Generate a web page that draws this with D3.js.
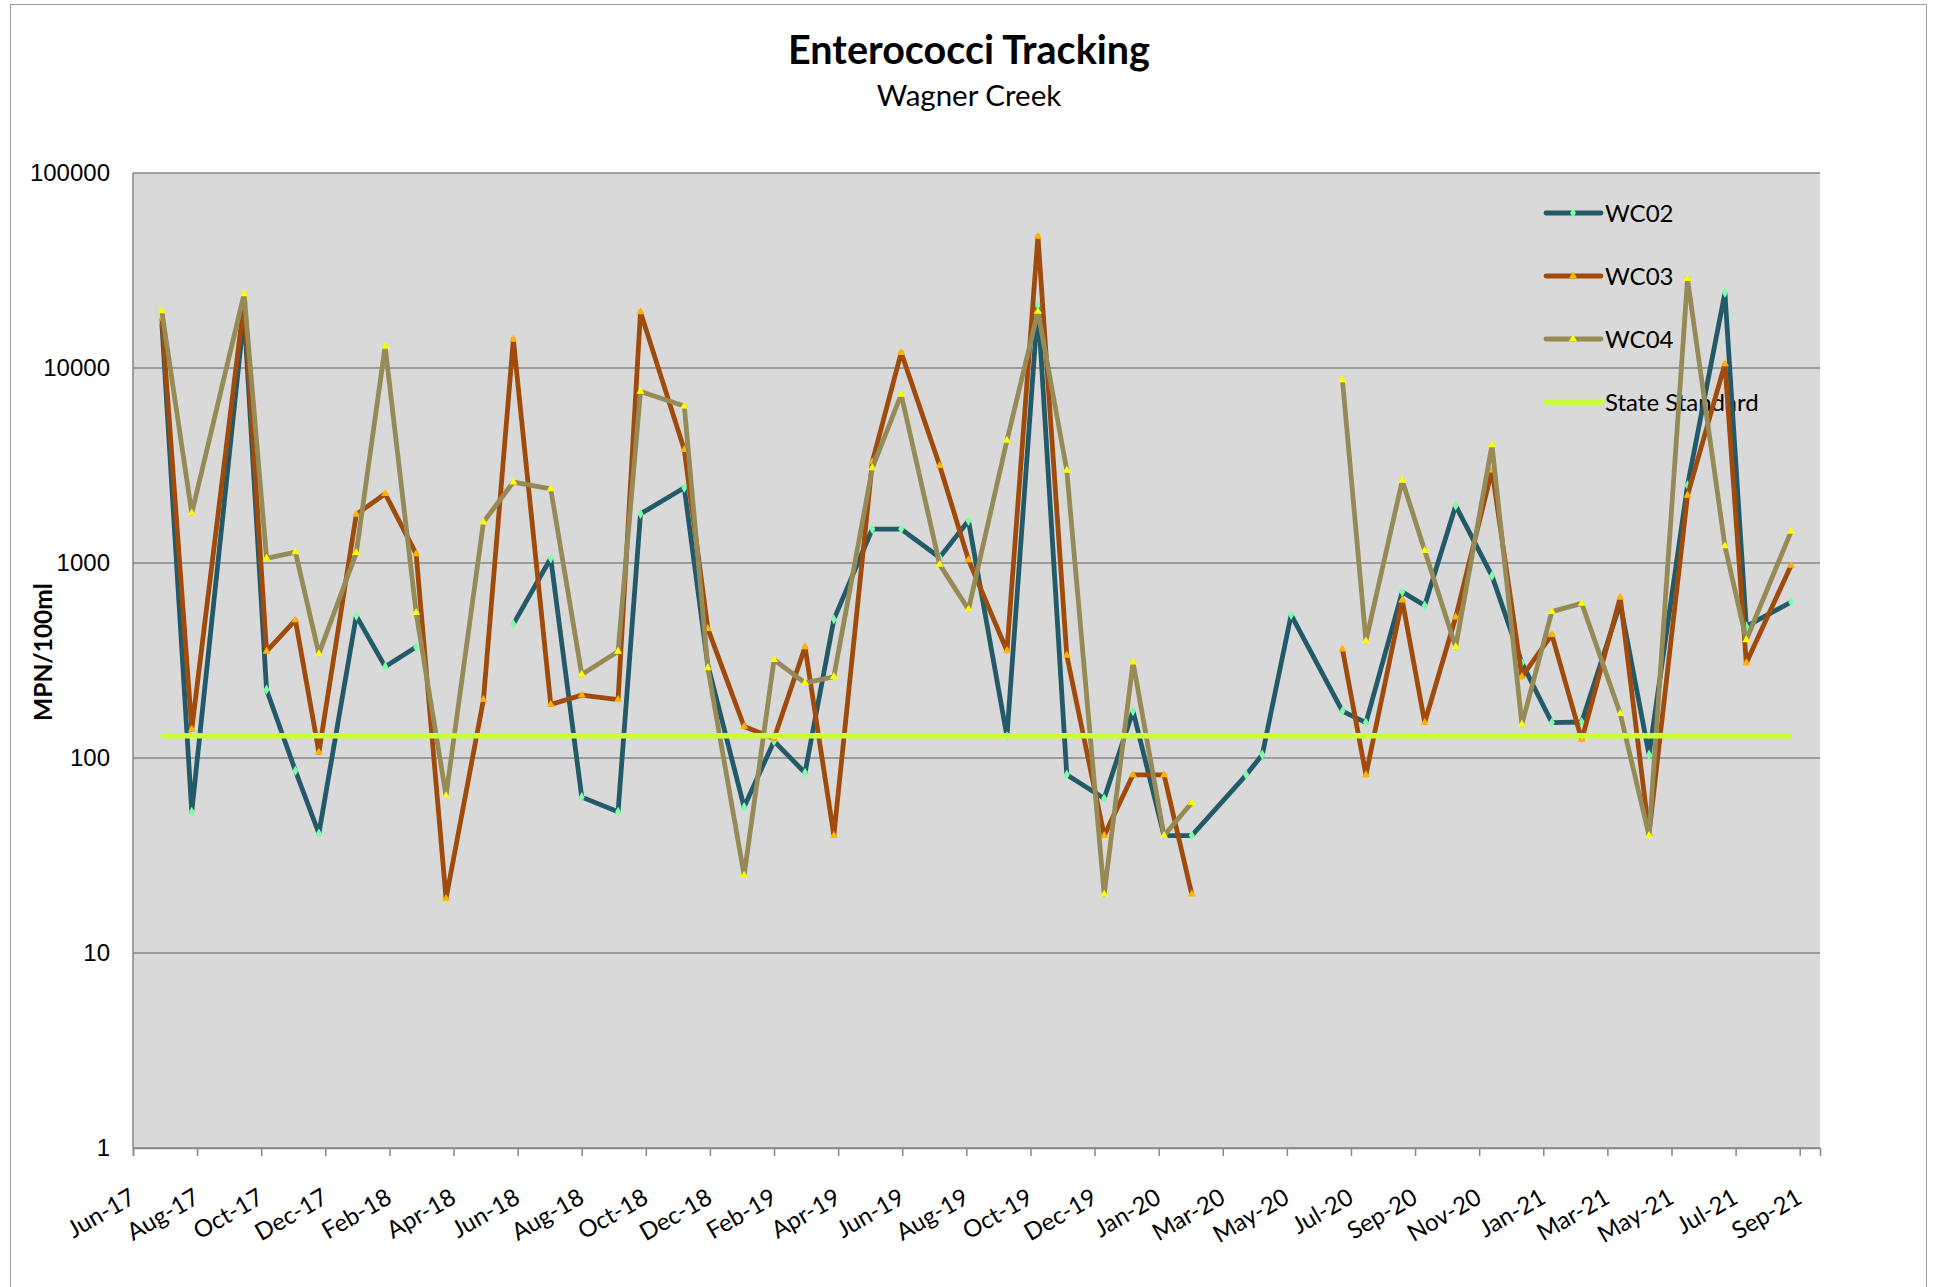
<!DOCTYPE html>
<html>
<head>
    <title>Enterococci Tracking</title>
    <script src="https://d3js.org/d3.v7.min.js"></script>
    <style>
        body { margin: 0; background: #fff; }
        .title { font-family: Lato, "Open Sans", sans-serif; font-weight: bold; fill: #000; }
        .subtitle { font-family: Lato, "Open Sans", sans-serif; fill: #000; }
        .ylab { font-family: "Liberation Sans", Arial, sans-serif; fill: #000; }
        .xlab { font-family: Lato, "Open Sans", sans-serif; fill: #000; }
        .legend text { font-family: Lato, "Open Sans", sans-serif; fill: #000; }
    </style>
</head>
<body>
    <div id="chart"></div>

    <script>
        // sample dates (one per sampling trip)
        const sampleDates = [
            "2017-07-12", "2017-08-09", "2017-09-27", "2017-10-18", "2017-11-14", "2017-12-06",
            "2018-01-10", "2018-02-06", "2018-03-07", "2018-04-04", "2018-05-09", "2018-06-06",
            "2018-07-11", "2018-08-09", "2018-09-12", "2018-10-03", "2018-11-13", "2018-12-05",
            "2019-01-08", "2019-02-05", "2019-03-06", "2019-04-02", "2019-05-08", "2019-06-04",
            "2019-07-10", "2019-08-06", "2019-09-11", "2019-10-10", "2019-11-06", "2019-12-11",
            "2020-01-07", "2020-02-05", "2020-03-02", "2020-04-22", "2020-05-07", "2020-06-03",
            "2020-07-21", "2020-08-12", "2020-09-15", "2020-10-06", "2020-11-04", "2020-12-08",
            "2021-01-05", "2021-02-02", "2021-03-02", "2021-04-07", "2021-05-04", "2021-06-09",
            "2021-07-14", "2021-08-03", "2021-09-14"
        ];

        const wc02 = [
            17000, 53, 19000, 224, 86, 41, 536, 294, 371, null, null, 486,
            1057, 63, 53, 1786, 2430, 300, 56, 122, 84, 514, 1493, 1493,
            1067, 1645, 129, 21000, 82, 62, 174, 40, 40, 82, 104, 542,
            174, 152, 711, 605, 1967, 859, 307, 152, 153, 620, 104, 2500,
            24300, 473, 631
        ];
        const wc03 = [
            18000, 140, 22000, 352, 510, 107, 1775, 2265, 1114, 19, 199, 14000,
            188, 210, 199, 19400, 3810, 461, 145, 126, 371, 40, 3300, 12000,
            3160, 1038, 355, 47300, 336, 40, 82, 82, 20, null, null, null,
            361, 82, 645, 152, 527, 2990, 261, 429, 124, 666, 41, 2220,
            10500, 307, 973
        ];
        const wc04 = [
            19600, 1800, 24000, 1057, 1138, 342, 1128, 12900, 557, 64, 1620, 2600,
            2400, 268, 352, 7580, 6380, 290, 25, 319, 243, 261, 3070, 7310,
            984, 578, 4250, 19500, 2985, 20, 310, 40, 59, null, null, null,
            8690, 398, 2650, 1158, 371, 4030, 149, 563, 621, 169, 40, 28700,
            1222, 403, 1453
        ];
        const stateStandard = 130;

        const seriesNames = ["WC02", "WC03", "WC04", "State Standard"];
        const yTicks = [1, 10, 100, 1000, 10000, 100000];
        const xTickLabels = [
            "Jun-17", "Aug-17", "Oct-17", "Dec-17", "Feb-18", "Apr-18", "Jun-18", "Aug-18",
            "Oct-18", "Dec-18", "Feb-19", "Apr-19", "Jun-19", "Aug-19", "Oct-19", "Dec-19",
            "Jan-20", "Mar-20", "May-20", "Jul-20", "Sep-20", "Nov-20", "Jan-21", "Mar-21",
            "May-21", "Jul-21", "Sep-21"
        ];
        const axisStart = "2017-06-15";
        const majorUnitDays = 60;
        const axisDays = 1579;

        const width = 1940, height = 1287;
        const plot = { left: 133, right: 1820, top: 173, bottom: 1148 };

        const parse = d3.utcParse("%Y-%m-%d");
        const dates = sampleDates.map(parse);
        const start = parse(axisStart);

        const x = d3.scaleUtc()
            .domain([start, d3.utcDay.offset(start, axisDays)])
            .range([plot.left, plot.right]);
        const y = d3.scaleLog()
            .domain([1, 100000])
            .range([plot.bottom, plot.top]);

        const svg = d3.select("#chart")
            .append("svg")
            .attr("width", width)
            .attr("height", height);

        // chart border
        svg.append("rect")
            .attr("x", 10.5).attr("y", 4.5)
            .attr("width", 1916).attr("height", 1320)
            .attr("fill", "#fff")
            .attr("stroke", "#a0a0a0");

        svg.append("text").attr("class", "title")
            .attr("x", 969).attr("y", 64)
            .attr("text-anchor", "middle")
            .attr("font-size", 39.5)
            .text("Enterococci Tracking");
        svg.append("text").attr("class", "subtitle")
            .attr("x", 969).attr("y", 106)
            .attr("text-anchor", "middle")
            .attr("font-size", 29.5)
            .text("Wagner Creek");

        // plot area
        svg.append("rect")
            .attr("x", plot.left).attr("y", plot.top)
            .attr("width", plot.right - plot.left)
            .attr("height", plot.bottom - plot.top)
            .attr("fill", "#d9d9d9");

        svg.append("g")
            .selectAll("line")
            .data(yTicks)
            .join("line")
            .attr("x1", plot.left).attr("x2", plot.right)
            .attr("y1", d => y(d)).attr("y2", d => y(d))
            .attr("stroke", "#868686")
            .attr("stroke-width", 1.5);

        svg.append("line")
            .attr("x1", plot.left).attr("x2", plot.left)
            .attr("y1", plot.top).attr("y2", plot.bottom)
            .attr("stroke", "#868686").attr("stroke-width", 1.5);

        svg.append("g")
            .selectAll("text")
            .data(yTicks)
            .join("text")
            .attr("class", "ylab")
            .attr("x", 110)
            .attr("y", d => y(d))
            .attr("dy", "0.35em")
            .attr("text-anchor", "end")
            .attr("font-size", 24)
            .text(d => d);

        svg.append("text")
            .attr("class", "title")
            .attr("transform", "translate(52,652) rotate(-90)")
            .attr("text-anchor", "middle")
            .attr("font-size", 24.5)
            .text("MPN/100ml");

        // x axis: major unit of 60 days from the axis start
        const xTickDates = xTickLabels.map((_, i) => d3.utcDay.offset(start, i * majorUnitDays));
        const xAxis = d3.axisBottom(x)
            .tickValues(xTickDates)
            .tickSize(8)
            .tickFormat((d, i) => xTickLabels[i]);
        const xg = svg.append("g")
            .attr("transform", `translate(0,${plot.bottom})`)
            .call(xAxis);
        xg.select(".domain").attr("stroke", "#868686").attr("stroke-width", 1.5);
        xg.selectAll(".tick line").attr("stroke", "#868686").attr("stroke-width", 1.5);
        xg.selectAll(".tick text")
            .attr("class", "xlab")
            .attr("font-size", 24)
            .attr("text-anchor", "end")
            .attr("x", -24).attr("y", 31.5).attr("dy", "0.71em")
            .attr("transform", "rotate(-30)");

        // legend (drawn under the series, as in the original)
        const legendItems = [
            { name: seriesNames[0], color: "#235a69", marker: "diamond", fill: "#7dffa8", w: 4.8 },
            { name: seriesNames[1], color: "#a04b0c", marker: "triangle", fill: "#ffb400", w: 4.8 },
            { name: seriesNames[2], color: "#968b57", marker: "triangle", fill: "#ffff00", w: 4.8 },
            { name: seriesNames[3], color: "#ccff33", marker: null, fill: null, w: 5.5 }
        ];
        const symbolFor = m => d3.symbol().type(m === "diamond" ? d3.symbolDiamond : d3.symbolTriangle).size(m === "diamond" ? 30 : 28);

        const legend = svg.append("g").attr("class", "legend");
        legendItems.forEach((it, i) => {
            const ly = 213 + i * 63;
            legend.append("line")
                .attr("x1", 1546).attr("x2", 1601)
                .attr("y1", ly).attr("y2", ly)
                .attr("stroke", it.color)
                .attr("stroke-width", it.w)
                .attr("stroke-linecap", "round");
            if (it.marker) {
                legend.append("path")
                    .attr("d", symbolFor(it.marker)())
                    .attr("transform", `translate(1573,${ly})`)
                    .attr("fill", it.fill);
            }
            legend.append("text")
                .attr("x", 1605).attr("y", ly)
                .attr("dy", "0.36em")
                .attr("font-size", 24)
                .text(it.name);
        });

        // series
        const series = [wc02, wc03, wc04];
        const line = d3.line()
            .defined(d => d.v != null)
            .x(d => x(d.date))
            .y(d => y(d.v));

        series.forEach((vals, si) => {
            const it = legendItems[si];
            const pts = vals.map((v, i) => ({ date: dates[i], v: v }));
            svg.append("path")
                .datum(pts)
                .attr("fill", "none")
                .attr("stroke", it.color)
                .attr("stroke-width", it.w)
                .attr("stroke-linejoin", "round")
                .attr("d", line);
            svg.append("g")
                .selectAll("path")
                .data(pts.filter(d => d.v != null))
                .join("path")
                .attr("d", symbolFor(it.marker)())
                .attr("transform", d => `translate(${x(d.date)},${y(d.v)})`)
                .attr("fill", it.fill);
        });

        // state standard across the sampled period
        svg.append("line")
            .attr("x1", x(dates[0])).attr("x2", x(dates[dates.length - 1]))
            .attr("y1", y(stateStandard)).attr("y2", y(stateStandard))
            .attr("stroke", legendItems[3].color)
            .attr("stroke-width", legendItems[3].w);
    </script>
</body>
</html>
